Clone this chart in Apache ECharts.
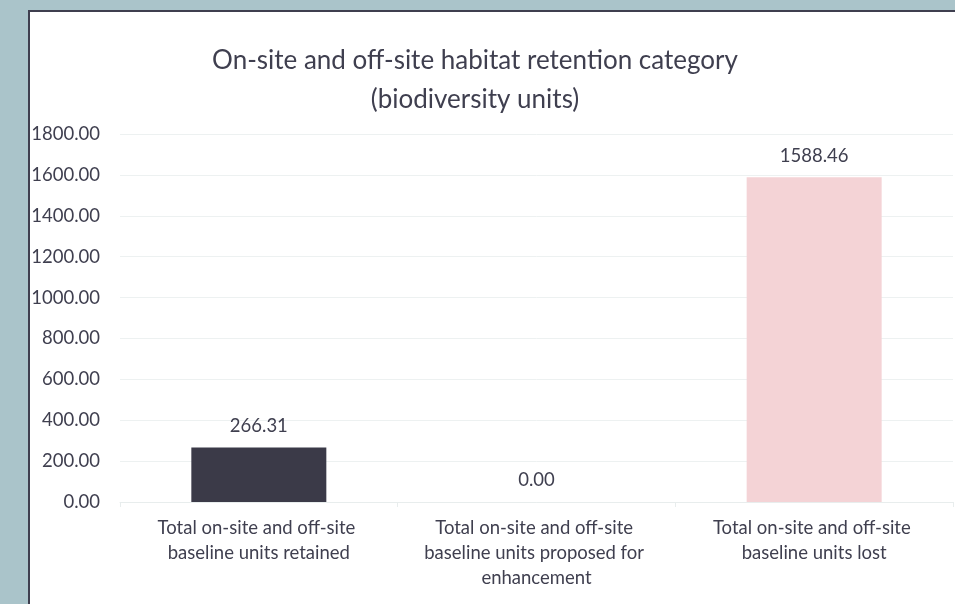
<!DOCTYPE html>
<html>
<head>
<meta charset="utf-8">
<script src="https://cdn.jsdelivr.net/npm/echarts@6/dist/echarts.min.js"></script>
<style>
html,body{margin:0;padding:0;background:#aac4ca;}
#c{width:955px;height:604px;}
</style>
</head>
<body>
<div id="c"></div>
<script>
const titleLines = ['On-site and off-site habitat retention category', '(biodiversity units)'];
const categories = [
  'Total on-site and off-site baseline units retained',
  'Total on-site and off-site baseline units proposed for enhancement',
  'Total on-site and off-site baseline units lost'
];
const values = [266.31, 0.00, 1588.46];
const barColors = ['#3b3a48', '#3b3a48', '#f4d3d6'];
const yMin = 0, yMax = 1800, yStep = 200;

const FONT = 'Lato';
const TXT = '#3f3f4f';

const chart = echarts.init(document.getElementById('c'), null, {renderer: 'canvas'});
chart.setOption({
  backgroundColor: '#aac4ca',
  animation: false,
  graphic: [
    {type: 'rect', z: -10, shape: {x: 29, y: 11, width: 940, height: 610},
     style: {fill: '#ffffff', stroke: '#3f3f4f', lineWidth: 2}},
    {type: 'text', z: 10,
     style: {text: titleLines.join('\n'), x: 0, y: 0, font: '26px ' + FONT, fill: TXT,
             align: 'center', lineHeight: 39},
     position: [475, 41]}
  ],
  grid: {left: 120, right: 2, top: 134, bottom: 102, containLabel: false},
  xAxis: {
    type: 'category',
    data: categories,
    axisLine: {show: true, lineStyle: {color: '#e8eded', width: 1}},
    axisTick: {show: true, length: 5, lineStyle: {color: '#e8eded'}},
    axisLabel: {
      color: TXT, fontFamily: FONT, fontSize: 18.5, lineHeight: 25, margin: 14,
      width: 242, overflow: 'break', interval: 0, align: 'center'
    }
  },
  yAxis: {
    type: 'value', min: yMin, max: yMax, interval: yStep,
    axisLine: {show: false}, axisTick: {show: false},
    splitLine: {lineStyle: {color: '#edf1f1', width: 1}},
    axisLabel: {color: TXT, fontFamily: FONT, fontSize: 18.5, margin: 20,
                formatter: v => v.toFixed(2)}
  },
  series: [{
    type: 'bar',
    data: values.map((v, i) => ({value: v, itemStyle: {color: barColors[i]}})),
    barWidth: 135,
    label: {show: true, position: 'top', distance: 12, color: TXT, fontFamily: FONT,
            fontSize: 18.5, formatter: p => p.value.toFixed(2)}
  }]
});
</script>
</body>
</html>
